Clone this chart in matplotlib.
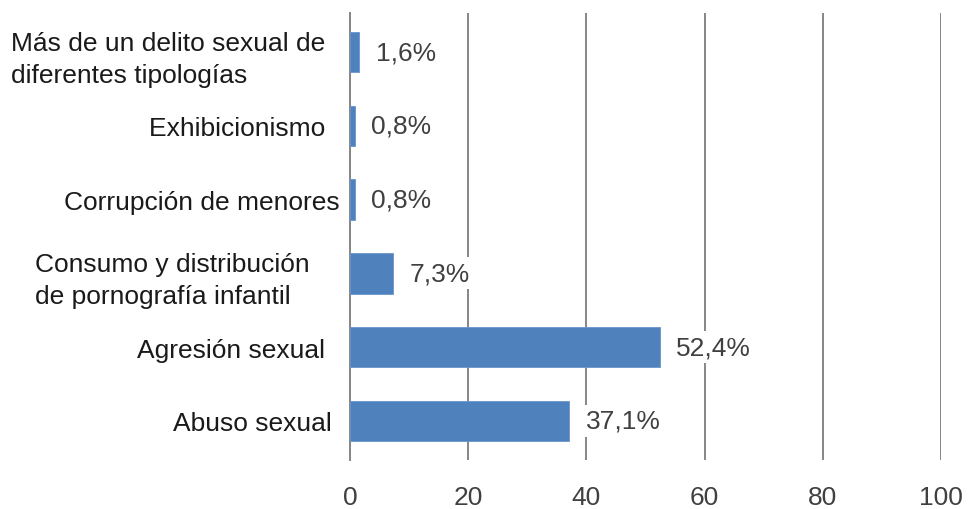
import numpy as np
import matplotlib.pyplot as plt

plt.rcParams['font.family'] = ['Liberation Sans', 'DejaVu Sans']

# categorias de arriba a abajo
categorias = ['Más de un delito sexual de  \ndiferentes tipologías',
              'Exhibicionismo  ',
              'Corrupción de menores',
              'Consumo y distribución    \nde pornografía infantil',
              'Agresión sexual  ',
              'Abuso sexual ']
valores = [1.6, 0.8, 0.8, 7.3, 52.4, 37.1]
etiquetas = ['1,6%', '0,8%', '0,8%', '7,3%', '52,4%', '37,1%']
ticks_x = [0, 20, 40, 60, 80, 100]

gris = '#868686'
fig = plt.figure(figsize=(9.68, 5.10), dpi=100)
ax = fig.add_axes([0.3616, 0.0961, 0.6105, 0.8764])

n = len(categorias)
pos = np.arange(n)[::-1]
ax.barh(pos, valores, height=0.55, color='#4F81BD', edgecolor='#6A95CC',
        linewidth=0.6, zorder=3)

for p, v, s in zip(pos, valores, etiquetas):
    ax.annotate(s, xy=(v, p), xytext=(12, 0), textcoords='offset points',
                ha='left', va='center', fontsize=19, color='#404040',
                bbox=dict(boxstyle='square,pad=0.15', fc='white', ec='none'),
                zorder=4)

ax.set_xlim(0, 100)
ax.set_ylim(-0.53, n - 0.47)
ax.set_xticks(ticks_x)
ax.set_xticklabels([str(t) for t in ticks_x], fontsize=19, color='#404040')
ax.set_yticks(pos)
ax.set_yticklabels(categorias, fontsize=19, color='#1a1a1a',
                   multialignment='left', linespacing=1.45)
ax.tick_params(axis='both', length=0)
ax.tick_params(axis='x', pad=18)
ax.tick_params(axis='y', pad=7.5)

ax.xaxis.grid(True, color=gris, linewidth=1.4, zorder=0)
ax.set_axisbelow(True)
for s in ['top', 'right', 'bottom']:
    ax.spines[s].set_visible(False)
ax.spines['left'].set_color(gris)
ax.spines['left'].set_linewidth(1.4)

fig.savefig('out.png', dpi=100)
